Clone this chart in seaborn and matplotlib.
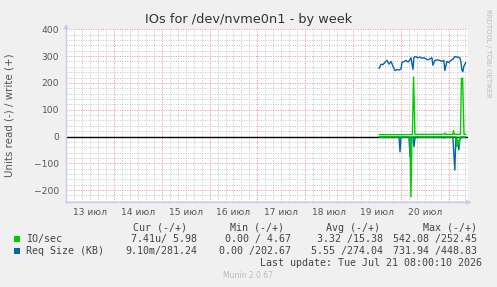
import numpy as np
import pandas as pd
import matplotlib
matplotlib.use("Agg")
import matplotlib.pyplot as plt
from matplotlib.ticker import MultipleLocator
import seaborn as sns

# ---------------- data (hours since 13 Jul 00:00) ----------------
day_labels = ["13 июл", "14 июл", "15 июл", "16 июл", "17 июл", "18 июл", "19 июл", "20 июл"]

req_write_t = [157.0, 158.0, 159.0, 160.0, 161.0, 162.0, 163.0, 164.0, 165.0, 166.0, 167.0, 168.0,
               168.5, 169.5, 170.5, 171.5, 172.5, 173.0, 174.0, 174.5, 175.5, 176.5, 177.5, 178.5,
               179.5, 180.5, 181.5, 182.5, 183.5, 184.0, 185.0, 186.0, 187.5, 188.5, 189.5, 190.0,
               191.0, 192.0, 193.0, 194.0, 195.0, 196.5, 197.5, 198.0, 198.5, 199.0, 199.5, 200.5]
req_write_v = [254, 270, 268, 278, 284, 270, 280, 262, 246, 250, 248, 252,
               276, 280, 284, 278, 286, 294, 250, 296, 298, 294, 296, 292,
               294, 290, 286, 290, 294, 266, 284, 286, 284, 280, 284, 246,
               280, 276, 284, 288, 298, 296, 294, 280, 250, 242, 262, 276]

req_read_t = [157.0, 167.0, 167.5, 168.0, 172.0, 172.5, 173.0, 174.0, 174.5, 175.0, 175.5,
              189.0, 189.5, 190.0, 194.0, 195.0, 195.5, 196.5, 197.0, 197.5, 198.0, 200.5]
req_read_v = [-2, -2, -57, -2, -2, -75, -2, -2, -38, -8, -2,
              -2, -6, -2, -2, -125, -2, -20, -50, -10, -4, -2]

io_write_t = [157.0, 170.0, 173.7, 174.3, 175.0, 189.5, 190.0, 190.5, 194.0, 194.3, 194.8,
              197.8, 198.3, 198.9, 199.6, 200.5]
io_write_v = [7, 7, 7, 222, 8, 8, 13, 8, 8, 22, 8,
              8, 217, 217, 8, 8]

io_read_t = [157.0, 172.5, 173.0, 173.5, 195.5, 196.0, 196.5, 197.0, 197.5, 200.5]
io_read_v = [-1, -1, -225, -1, -1, -38, -15, -30, -1, -1]

legend_names = ["IO/sec", "Req Size (KB)"]
cur_vals = ["7.41u/ 5.98", "9.10m/281.24"]
min_vals = ["0.00 / 4.67", "0.00 /202.67"]
avg_vals = ["3.32 /15.38", "5.55 /274.04"]
max_vals = ["542.08 /252.45", "731.94 /448.83"]

GREEN = "#00CC00"
BLUE = "#0066B3"

# ---------------- figure ----------------
sns.set_style("white")
plt.rcParams["font.family"] = ["DejaVu Sans"]
W, H = 497, 287
fig = plt.figure(figsize=(W / 100, H / 100), dpi=100, facecolor="#F0F0F0")
L, R, T, B = 66, 468, 29.3, 202.2
ax = fig.add_axes([L / W, 1 - B / H, (R - L) / W, (B - T) / H])
ax.set_facecolor("white")
ax.set_xlim(0, 201.6)
ax.set_ylim(-245, 400)

# grid
ax.xaxis.set_major_locator(MultipleLocator(24))
ax.xaxis.set_minor_locator(MultipleLocator(4))
ax.yaxis.set_major_locator(MultipleLocator(100))
ax.yaxis.set_minor_locator(MultipleLocator(20))
ax.grid(which="minor", color="#C4C4C4", linestyle=(0, (1, 1.5)), linewidth=0.7, zorder=0)
ax.grid(which="major", color="#E59090", linestyle=(0, (1, 1.5)), linewidth=0.7, zorder=0)
ax.set_axisbelow(True)
ax.set_xticklabels([])
ax.tick_params(axis="x", which="major", length=3, color="#E08080", direction="out", width=0.6)
ax.tick_params(axis="x", which="minor", length=2, color="#BBBBBB", direction="out", width=0.6)
ax.tick_params(axis="y", which="major", length=3, color="#E08080", direction="out", width=0.6,
               labelsize=6.6, labelcolor="#555555", pad=2)
ax.tick_params(axis="y", which="minor", length=2, color="#BBBBBB", direction="out", width=0.6)
for lab_i, lab in enumerate(day_labels):
    ax.text(12 + 24 * lab_i, -0.035, lab, transform=ax.get_xaxis_transform(),
            ha="center", va="top", fontsize=6.6, color="#555555")

for s in ["top", "right"]:
    ax.spines[s].set_visible(False)
for s in ["left", "bottom"]:
    ax.spines[s].set_color("#C8C8F0")
    ax.spines[s].set_linewidth(1.0)

# zero line
ax.axhline(0, color="black", linewidth=1.0, zorder=2)

# data
df_rw = pd.DataFrame({"t": req_write_t, "v": req_write_v})
df_rr = pd.DataFrame({"t": req_read_t, "v": req_read_v})
df_iw = pd.DataFrame({"t": io_write_t, "v": io_write_v})
df_ir = pd.DataFrame({"t": io_read_t, "v": io_read_v})
sns.lineplot(data=df_rr, x="t", y="v", ax=ax, color=BLUE, linewidth=1.0, zorder=3)
sns.lineplot(data=df_rw, x="t", y="v", ax=ax, color=BLUE, linewidth=1.0, zorder=3)
sns.lineplot(data=df_ir, x="t", y="v", ax=ax, color=GREEN, linewidth=1.0, zorder=4)
sns.lineplot(data=df_iw, x="t", y="v", ax=ax, color=GREEN, linewidth=1.0, zorder=4)
ax.set_xlabel("")
ax.set_ylabel("")

# axis arrows
ax.annotate("", xy=(L / W, 1 - 21 / H), xytext=(L / W, 1 - 30 / H), xycoords="figure fraction",
            arrowprops=dict(arrowstyle="-|>", color="#C8C8F0", lw=1.0, mutation_scale=6))
ax.annotate("", xy=(474 / W, 1 - B / H), xytext=(466 / W, 1 - B / H), xycoords="figure fraction",
            arrowprops=dict(arrowstyle="-|>", color="#C8C8F0", lw=1.0, mutation_scale=6))

# texts
fig.text(248.5 / W, 1 - 19 / H, "IOs for /dev/nvme0n1 - by week", ha="center", va="center",
         fontsize=9.3, color="#333333")
fig.text(10 / W, 1 - 115 / H, "Units read (-) / write (+)", rotation=90, ha="center", va="center",
         fontsize=7.4, color="#555555")
fig.text(488 / W, 1 - 53 / H, "RRDTOOL / TOBI OETIKER", rotation=270, ha="center", va="center",
         fontsize=5.0, color="#BBBBBB")

mono = "DejaVu Sans Mono"
fs = 7.2
tc = "#444444"
hy = 1 - 228 / H
fig.text(187 / W, hy, "Cur (-/+)", ha="right", va="center", family=mono, fontsize=fs, color=tc)
fig.text(284 / W, hy, "Min (-/+)", ha="right", va="center", family=mono, fontsize=fs, color=tc)
fig.text(380 / W, hy, "Avg (-/+)", ha="right", va="center", family=mono, fontsize=fs, color=tc)
fig.text(477 / W, hy, "Max (-/+)", ha="right", va="center", family=mono, fontsize=fs, color=tc)
row_y = [239, 251]
colors = [GREEN, BLUE]
for i in range(2):
    y = 1 - row_y[i] / H
    fig.patches.append(plt.Rectangle((14 / W, y - 2.8 / H), 5.5 / W, 5.5 / H,
                                     transform=fig.transFigure, facecolor=colors[i],
                                     edgecolor="none"))
    fig.text(26 / W, y, legend_names[i], ha="left", va="center", family=mono, fontsize=fs, color=tc)
    fig.text(197 / W, y, cur_vals[i], ha="right", va="center", family=mono, fontsize=fs, color=tc)
    fig.text(291 / W, y, min_vals[i], ha="right", va="center", family=mono, fontsize=fs, color=tc)
    fig.text(383 / W, y, avg_vals[i], ha="right", va="center", family=mono, fontsize=fs, color=tc)
    fig.text(477 / W, y, max_vals[i], ha="right", va="center", family=mono, fontsize=fs, color=tc)
fig.text(482 / W, 1 - 263 / H, "Last update: Tue Jul 21 08:00:10 2026", ha="right", va="center",
         family=mono, fontsize=fs, color=tc)
fig.text(248 / W, 1 - 276 / H, "Munin 2.0.67", ha="center", va="center", fontsize=5.5,
         color="#BBBBBB")

fig.savefig("out.png", dpi=100, facecolor=fig.get_facecolor())
